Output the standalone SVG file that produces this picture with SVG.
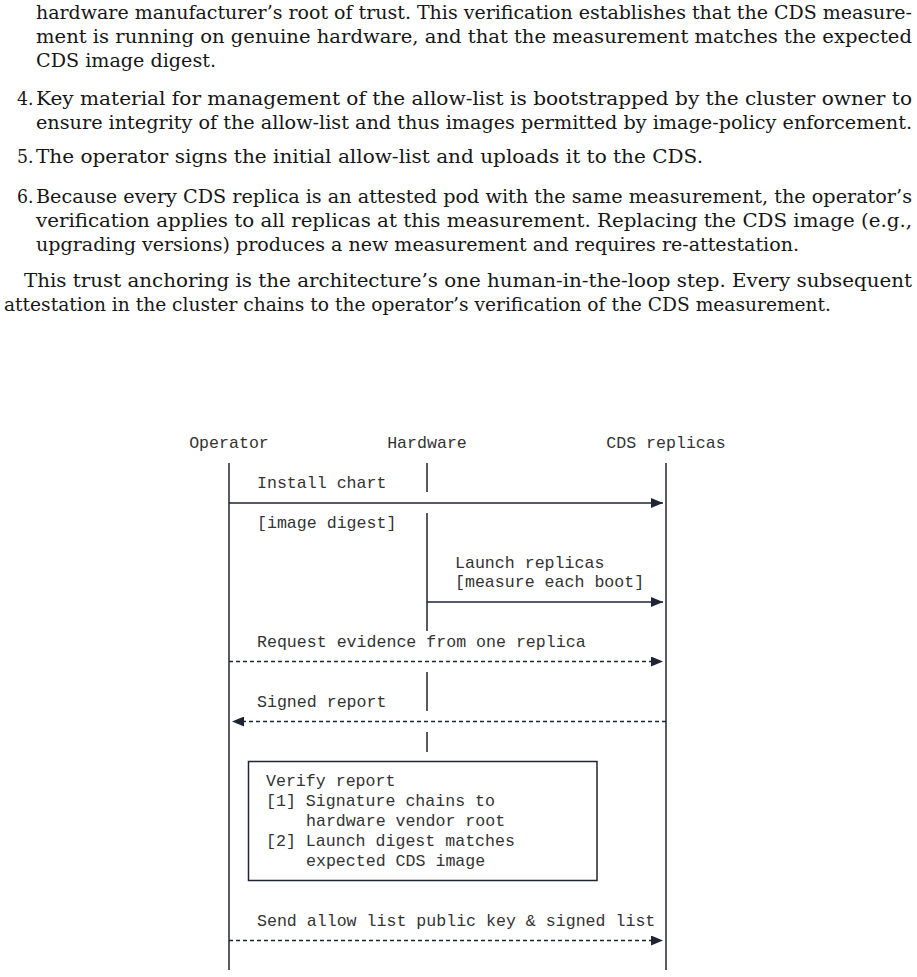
<svg xmlns="http://www.w3.org/2000/svg" width="917" height="977" viewBox="0 0 917 977">
<style>
.p{font-family:"DejaVu Serif","Liberation Serif",serif;font-size:18.5px;fill:#161616}
.m{font-family:"Liberation Mono","Courier New",monospace;font-size:16.6px;fill:#333}
.ll{stroke:#1e2433;stroke-width:1.5;fill:none}
.msg{stroke:#1e2433;stroke-width:1.5;fill:none}
.dash{stroke-dasharray:4 3}
.box{fill:#fff;stroke:#1e2433;stroke-width:1.5}
</style>
<defs>
<marker id="ah" viewBox="0 0 12 10" refX="12" refY="5" markerWidth="12" markerHeight="10" markerUnits="userSpaceOnUse" orient="auto">
<path d="M0,0 L12,5 L0,10 Z" fill="#1e2433"/>
</marker>
</defs>
<rect width="917" height="977" fill="#fff"/>
<g id="prose">
<text class="p" x="36" y="19" textLength="876" lengthAdjust="spacingAndGlyphs">hardware manufacturer’s root of trust. This verification establishes that the CDS measure-</text>
<text class="p" x="36" y="43" textLength="876" lengthAdjust="spacingAndGlyphs">ment is running on genuine hardware, and that the measurement matches the expected</text>
<text class="p" x="36" y="67" textLength="180" lengthAdjust="spacingAndGlyphs">CDS image digest.</text>
<text class="p" x="17" y="105" textLength="16.5" lengthAdjust="spacingAndGlyphs">4.</text>
<text class="p" x="36" y="105" textLength="876" lengthAdjust="spacingAndGlyphs">Key material for management of the allow-list is bootstrapped by the cluster owner to</text>
<text class="p" x="36" y="129" textLength="876" lengthAdjust="spacingAndGlyphs">ensure integrity of the allow-list and thus images permitted by image-policy enforcement.</text>
<text class="p" x="17" y="163" textLength="16.5" lengthAdjust="spacingAndGlyphs">5.</text>
<text class="p" x="36" y="163" textLength="667" lengthAdjust="spacingAndGlyphs">The operator signs the initial allow-list and uploads it to the CDS.</text>
<text class="p" x="17" y="203" textLength="16.5" lengthAdjust="spacingAndGlyphs">6.</text>
<text class="p" x="36" y="203" textLength="876" lengthAdjust="spacingAndGlyphs">Because every CDS replica is an attested pod with the same measurement, the operator’s</text>
<text class="p" x="36" y="227" textLength="876" lengthAdjust="spacingAndGlyphs">verification applies to all replicas at this measurement. Replacing the CDS image (e.g.,</text>
<text class="p" x="36" y="251" textLength="763" lengthAdjust="spacingAndGlyphs">upgrading versions) produces a new measurement and requires re-attestation.</text>
<text class="p" x="24" y="287" textLength="888" lengthAdjust="spacingAndGlyphs">This trust anchoring is the architecture’s one human-in-the-loop step. Every subsequent</text>
<text class="p" x="4" y="311" textLength="827" lengthAdjust="spacingAndGlyphs">attestation in the cluster chains to the operator’s verification of the CDS measurement.</text>
</g>
<g id="operator">
<text class="m" x="229" y="448" text-anchor="middle">Operator</text>
<line class="ll" x1="229" y1="463" x2="229" y2="970"/>
</g>
<g id="hardware">
<text class="m" x="427" y="448" text-anchor="middle">Hardware</text>
<path class="ll" d="M427,463 V492 M427,513 V631 M427,672 V711 M427,732 V752"/>
</g>
<g id="cds-replicas">
<text class="m" x="666" y="448" text-anchor="middle">CDS replicas</text>
<line class="ll" x1="666" y1="463" x2="666" y2="970"/>
</g>
<g id="verify-report">
<rect class="box" x="248.5" y="761.5" width="348.5" height="119"/>
<text class="m" x="266" y="786">Verify report</text>
<text class="m" x="266" y="806">[1] Signature chains to</text>
<text class="m" x="306" y="826">hardware vendor root</text>
<text class="m" x="266" y="846">[2] Launch digest matches</text>
<text class="m" x="306" y="866">expected CDS image</text>
</g>
<g id="connectors">
<line class="msg" x1="229" y1="503" x2="663" y2="503" marker-end="url(#ah)"/>
<text class="m" x="257" y="488">Install chart</text>
<text class="m" x="257" y="528">[image digest]</text>
<line class="msg" x1="427" y1="602" x2="663" y2="602" marker-end="url(#ah)"/>
<text class="m" x="455" y="568">Launch replicas</text>
<text class="m" x="455" y="587">[measure each boot]</text>
<line class="msg dash" x1="229" y1="661.5" x2="663" y2="661.5" marker-end="url(#ah)"/>
<text class="m" x="257" y="647">Request evidence from one replica</text>
<line class="msg dash" x1="666" y1="721.5" x2="232" y2="721.5" marker-end="url(#ah)"/>
<text class="m" x="257" y="707">Signed report</text>
<line class="msg dash" x1="229" y1="940.5" x2="663" y2="940.5" marker-end="url(#ah)"/>
<text class="m" x="257" y="926">Send allow list public key &amp; signed list</text>
</g>
</svg>
